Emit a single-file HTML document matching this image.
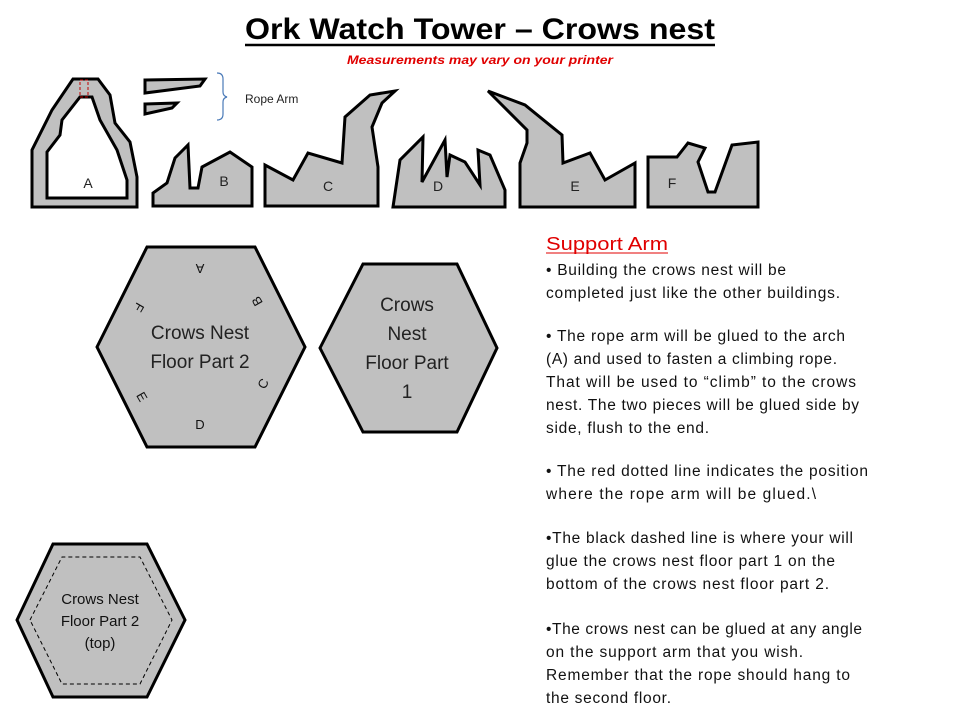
<!DOCTYPE html>
<html><head><meta charset="utf-8"><style>
html,body{margin:0;padding:0;background:#fff;width:960px;height:720px;overflow:hidden}
svg{display:block}
text{font-family:"Liberation Sans",sans-serif}
</style></head><body>
<svg width="960" height="720" viewBox="0 0 960 720" xmlns="http://www.w3.org/2000/svg">
<text x="245" y="39" font-size="30" font-weight="bold" textLength="470" lengthAdjust="spacingAndGlyphs">Ork Watch Tower – Crows nest</text>
<line x1="245" y1="45" x2="715" y2="45" stroke="#000" stroke-width="2.5"/>
<text x="347" y="64" font-size="12" font-weight="bold" font-style="italic" fill="#e00000" textLength="266" lengthAdjust="spacingAndGlyphs">Measurements may vary on your printer</text>

<g fill="#c0c0c0" stroke="#000" stroke-width="3" stroke-linejoin="miter">
<path fill-rule="evenodd" d="M73,79 L98,79 L110,95 L115,123 L130,142 L137,177 L137,207 L32,207 L32,150 L52,110 Z M80,97 L92,97 L100,120 L117,150 L127,180 L127,198 L47,198 L47,152 L60,135 L62,120 Z"/>
<path d="M145,80 L205,79 L200,86 L145,93 Z"/>
<path d="M145,104 L177,103 L172,108 L145,114 Z"/>
<path d="M153,206 L153,193 L167,183 L175,158 L188,145 L190,188 L198,188 L202,167 L230,152 L252,167 L252,206 Z"/>
<path d="M265,206 L265,165 L293,180 L308,153 L342,163 L345,117 L370,95 L395,91 L382,103 L372,127 L378,167 L378,206 Z"/>
<path d="M393,207 L400,160 L423,137 L422,182 L445,140 L447,177 L450,155 L465,162 L480,185 L478,150 L490,155 L505,190 L505,207 Z"/>
<path d="M520,207 L520,163 L527,143 L527,130 L500,103 L488,91 L525,105 L562,135 L563,163 L590,153 L605,180 L635,163 L635,207 Z"/>
<path d="M648,207 L648,157 L677,157 L688,143 L705,148 L698,162 L708,192 L715,192 L732,145 L758,142 L758,207 Z"/>
<path d="M97,347 L147,247 L255,247 L305,347 L255,447 L147,447 Z"/>
<path d="M320,348 L363,264 L457,264 L497,348 L457,432 L363,432 Z"/>
<path d="M17,620 L53,544 L147,544 L185,620 L147,697 L53,697 Z"/>
</g>
<rect x="80" y="80" width="8" height="17" fill="none" stroke="#c00000" stroke-width="1" stroke-dasharray="3,2"/>
<path d="M30,620 L62,557 L140,557 L172,620 L140,684 L62,684 Z" fill="none" stroke="#000" stroke-width="1" stroke-dasharray="4,3"/>
<path d="M217,73 Q223,73 223,79 L223,92 Q223,96 227,97 Q223,98 223,102 L223,114 Q223,120 217,120" fill="none" stroke="#4a7ab8" stroke-width="1.2"/>
<text x="245" y="103" font-size="12" fill="#222">Rope Arm</text>

<g font-size="14" fill="#222" text-anchor="middle">
<text x="88" y="188">A</text><text x="224" y="186">B</text><text x="328" y="191">C</text>
<text x="438" y="191">D</text><text x="575" y="191">E</text><text x="672" y="188">F</text>
</g>
<g font-size="13" fill="#111" text-anchor="middle">
<text transform="translate(200,264) rotate(180)">A</text>
<text transform="translate(261,299) rotate(-120)">B</text>
<text transform="translate(267,386) rotate(-60)">C</text>
<text x="200" y="429">D</text>
<text transform="translate(138,399) rotate(60)">E</text>
<text transform="translate(135,305) rotate(120)">F</text>
</g>
<g font-size="19" fill="#222" text-anchor="middle">
<text x="200" y="339">Crows Nest</text><text x="200" y="368">Floor Part 2</text>
<text x="407" y="311">Crows</text><text x="407" y="340">Nest</text><text x="407" y="369">Floor Part</text><text x="407" y="398">1</text>
</g>
<g font-size="15" fill="#111" text-anchor="middle">
<text x="100" y="604">Crows Nest</text><text x="100" y="626">Floor Part 2</text><text x="100" y="648">(top)</text>
</g>

<text x="546" y="250" font-size="18" fill="#e00000" textLength="122" lengthAdjust="spacingAndGlyphs">Support Arm</text>
<line x1="546" y1="253" x2="668" y2="253" stroke="#e00000" stroke-width="1"/>
<g font-size="15.5" fill="#111" lengthAdjust="spacingAndGlyphs">
<text x="546" y="275" textLength="240">• Building the crows nest will be</text>
<text x="546" y="298" textLength="294">completed just like the other buildings.</text>
<text x="546" y="341" textLength="299">• The rope arm will be glued to the arch</text>
<text x="546" y="364" textLength="291">(A) and used to fasten a climbing rope.</text>
<text x="546" y="387" textLength="310">That will be used to “climb” to the crows</text>
<text x="546" y="410" textLength="313">nest. The two pieces will be glued side by</text>
<text x="546" y="433" textLength="163">side, flush to the end.</text>
<text x="546" y="476" textLength="322">• The red dotted line indicates the position</text>
<text x="546" y="499" textLength="270">where the rope arm will be glued.\</text>
<text x="546" y="543" textLength="307">•The black dashed line is where your will</text>
<text x="546" y="566" textLength="289">glue the crows nest floor part 1 on the</text>
<text x="546" y="589" textLength="283">bottom of the crows nest floor part 2.</text>
<text x="546" y="634" textLength="316">•The crows nest can be glued at any angle</text>
<text x="546" y="657" textLength="257">on the support arm that you wish.</text>
<text x="546" y="680" textLength="304">Remember that the rope should hang to</text>
<text x="546" y="703" textLength="125">the second floor.</text>
</g>
</svg>
</body></html>
